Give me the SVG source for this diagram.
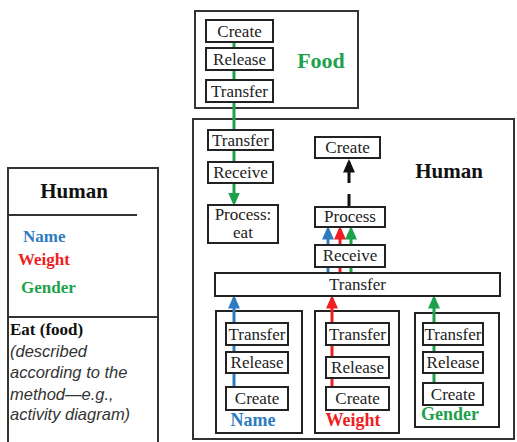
<svg xmlns="http://www.w3.org/2000/svg" width="517" height="442" viewBox="0 0 517 442">
<style>
.box{fill:#fff;stroke:#222;stroke-width:2}
.frame{fill:#fff;stroke:#333;stroke-width:2}
.t{font-family:"Liberation Serif",serif;font-size:17px;fill:#222;text-anchor:middle}
.b{font-family:"Liberation Serif",serif;font-weight:bold}
.it{font-family:"Liberation Sans",sans-serif;font-style:italic;font-size:16.5px;fill:#333}
.g{stroke:#1ea14b;stroke-width:3;fill:none}
.bl{stroke:#2f7bbf;stroke-width:3;fill:none}
.r{stroke:#f01e23;stroke-width:3;fill:none}
.k{stroke:#111;stroke-width:3;fill:none}
</style>
<defs>
<marker id="ag" markerWidth="4.5" markerHeight="4" refX="3.5" refY="2" orient="auto" markerUnits="strokeWidth"><path d="M0,0 L4.5,2 L0,4 z" fill="#1ea14b"/></marker>
<marker id="ab" markerWidth="4.5" markerHeight="4" refX="3.5" refY="2" orient="auto" markerUnits="strokeWidth"><path d="M0,0 L4.5,2 L0,4 z" fill="#2f7bbf"/></marker>
<marker id="ar" markerWidth="4.5" markerHeight="4" refX="3.5" refY="2" orient="auto" markerUnits="strokeWidth"><path d="M0,0 L4.5,2 L0,4 z" fill="#f01e23"/></marker>
<marker id="ak" markerWidth="4.5" markerHeight="4" refX="3.5" refY="2" orient="auto" markerUnits="strokeWidth"><path d="M0,0 L4.5,2 L0,4 z" fill="#111"/></marker>
</defs>
<rect width="517" height="442" fill="#fff"/>

<g id="class-human">
<rect x="8" y="168" width="150" height="278" class="frame"/>
<line x1="8" y1="215" x2="137" y2="215" stroke="#333" stroke-width="2"/>
<line x1="8" y1="317" x2="158" y2="317" stroke="#333" stroke-width="2"/>
<text x="74" y="198" class="b" font-size="21" text-anchor="middle" fill="#111">Human</text>
<text x="23" y="242" class="b" font-size="17" fill="#2f7bbf">Name</text>
<text x="18" y="265" class="b" font-size="17" fill="#f01e23">Weight</text>
<text x="21" y="293" class="b" font-size="17" fill="#1ea14b">Gender</text>
<text x="10" y="335" class="b" font-size="17" fill="#111">Eat (food)</text>
<text x="10" y="357" class="it">(described</text>
<text x="10" y="378" class="it">according to the</text>
<text x="10" y="400" class="it">method—e.g.,</text>
<text x="10" y="420" class="it">activity diagram)</text>
</g>

<g id="food">
<rect x="195" y="11" width="163" height="97" class="frame"/>
<text x="321" y="68" class="b" font-size="22" text-anchor="middle" fill="#1ea14b">Food</text>
</g>

<g id="human">
<rect x="193" y="119" width="321" height="320" class="frame"/>
<text x="449" y="178" class="b" font-size="21" text-anchor="middle" fill="#111">Human</text>
</g>

<g id="name-box"><rect x="216" y="311" width="86" height="122" class="box"/>
<text x="253" y="426" class="b" font-size="18" text-anchor="middle" fill="#2f7bbf">Name</text></g>
<g id="weight-box"><rect x="315" y="311" width="84" height="122" class="box"/>
<text x="353" y="426" class="b" font-size="18" text-anchor="middle" fill="#f01e23">Weight</text></g>
<g id="gender-box"><rect x="415" y="313" width="84" height="114" class="box"/>
<text x="450" y="420" class="b" font-size="18" text-anchor="middle" fill="#1ea14b">Gender</text></g>

<g id="connectors">
<line x1="234" y1="42" x2="234" y2="203" class="g" marker-end="url(#ag)"/>
<line x1="349" y1="207" x2="349" y2="172" class="k" stroke-dasharray="13 11"/>
<line x1="349" y1="172" x2="349" y2="162" class="k" marker-end="url(#ak)"/>
<line x1="328" y1="273" x2="328" y2="229" class="bl" marker-end="url(#ab)"/>
<line x1="340" y1="273" x2="340" y2="229" class="r" marker-end="url(#ar)"/>
<line x1="351" y1="273" x2="351" y2="229" class="g" marker-end="url(#ag)"/>
<line x1="234" y1="387" x2="234" y2="298" class="bl" marker-end="url(#ab)"/>
<line x1="332" y1="387" x2="332" y2="298" class="r" marker-end="url(#ar)"/>
<line x1="434" y1="383" x2="434" y2="298" class="g" marker-end="url(#ag)"/>
</g>

<g id="food-create"><rect x="206" y="20" width="67" height="22" class="box"/><text x="239.5" y="37" class="t">Create</text></g>
<g id="food-release"><rect x="206" y="48" width="67" height="22" class="box"/><text x="239.5" y="65" class="t">Release</text></g>
<g id="food-transfer"><rect x="206" y="80" width="67" height="22" class="box"/><text x="239.5" y="97" class="t">Transfer</text></g>

<g id="human-transfer"><rect x="208" y="130" width="65" height="20" class="box"/><text x="240.5" y="146" class="t">Transfer</text></g>
<g id="human-receive"><rect x="208" y="162" width="65" height="21" class="box"/><text x="240.5" y="178" class="t">Receive</text></g>
<g id="process-eat"><rect x="208" y="205" width="70" height="38" class="box"/><text x="243" y="220" class="t">Process:</text><text x="243" y="238" class="t">eat</text></g>

<g id="create"><rect x="315" y="137" width="65" height="21" class="box"/><text x="347.5" y="153" class="t">Create</text></g>
<g id="process"><rect x="315" y="207" width="70" height="20" class="box"/><text x="350" y="222" class="t">Process</text></g>
<g id="receive"><rect x="315" y="245" width="70" height="22" class="box"/><text x="350" y="261" class="t">Receive</text></g>
<g id="transfer-bar"><rect x="215" y="273" width="285" height="23" class="box"/><text x="357.5" y="290" class="t">Transfer</text></g>

<g id="name-transfer"><rect x="226" y="323" width="62" height="22" class="box"/><text x="257" y="340" class="t">Transfer</text></g>
<g id="name-release"><rect x="226" y="352" width="62" height="21" class="box"/><text x="257" y="368" class="t">Release</text></g>
<g id="name-create"><rect x="226" y="387" width="62" height="23" class="box"/><text x="257" y="404" class="t">Create</text></g>

<g id="weight-transfer"><rect x="326" y="323" width="63" height="22" class="box"/><text x="357.5" y="340" class="t">Transfer</text></g>
<g id="weight-release"><rect x="326" y="357" width="63" height="21" class="box"/><text x="357.5" y="373" class="t">Release</text></g>
<g id="weight-create"><rect x="326" y="387" width="63" height="23" class="box"/><text x="357.5" y="404" class="t">Create</text></g>

<g id="gender-transfer"><rect x="423" y="323" width="60" height="22" class="box"/><text x="453" y="340" class="t">Transfer</text></g>
<g id="gender-release"><rect x="423" y="352" width="60" height="21" class="box"/><text x="453" y="368" class="t">Release</text></g>
<g id="gender-create"><rect x="423" y="383" width="60" height="22" class="box"/><text x="453" y="400" class="t">Create</text></g>
</svg>
